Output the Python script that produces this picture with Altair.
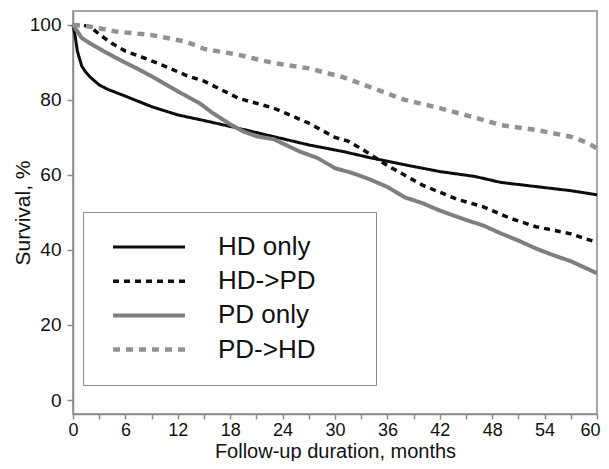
import altair as alt
import pandas as pd

FONT = "Liberation Sans, Arial, sans-serif"

groups = ["HD only", "HD->PD", "PD only", "PD->HD"]
colors = ["#0d0d0d", "#0d0d0d", "#7f7f7f", "#929292"]
dashes = [[1, 0], [6, 5], [1, 0], [7, 6]]
widths = [3, 4.5, 3, 3.2]

hd_only_m = [0, 0.25, 0.5, 1, 1.5, 2, 3, 4, 6, 9, 12, 15, 19, 23, 27, 31, 34, 38, 42, 46, 49, 53, 57, 60]
hd_only_v = [100, 97, 93, 89, 87.3, 86, 84, 82.8, 81, 78.2, 76, 74.5, 72.4, 70.2, 68, 66.2, 64.6, 62.7, 60.9, 59.6, 58, 56.9, 55.8, 54.7]

hd_pd_m = [0, 1, 2, 3, 4.5, 6, 8, 10, 13, 15, 19, 23, 27, 30, 31.5, 33, 36, 40, 44, 47, 50, 53, 57, 60]
hd_pd_v = [100, 100, 99.5, 97.5, 95, 93, 91.3, 89.5, 86.5, 85, 80.4, 77.8, 73.8, 70, 69, 67, 62.5, 57.3, 53.5, 51.5, 48.5, 46.2, 44.3, 42]

pd_only_m = [0, 1, 2, 3.5, 5.5, 7.3, 9, 11, 13, 14.5, 16, 18, 19.5, 21, 23, 26, 28, 30, 32, 34, 36, 38, 40, 42, 45, 47, 49, 51, 53, 55, 57, 60]
pd_only_v = [100, 96.5, 95, 93, 90.5, 88.4, 86.3, 83.6, 81, 79.1, 76.5, 73.5, 71.6, 70.3, 69.5, 66.2, 64.5, 61.8, 60.5, 58.8, 56.8, 54, 52.5, 50.5, 48, 46.5, 44.4, 42.5, 40.4, 38.6, 37, 33.8]

pd_hd_m = [0, 2, 5, 9, 13, 15, 19, 23, 27, 31, 34.5, 38, 42, 46, 49, 53, 57, 59, 60]
pd_hd_v = [100, 99.5, 98.2, 97.3, 95.5, 93.6, 92, 89.8, 88.4, 86, 83, 80, 77.8, 75.3, 73.3, 72, 70.2, 68.5, 67]

x_ticks = list(range(0, 61, 3))
y_ticks = [0, 20, 40, 60, 80, 100]

rows = []
for i, (g, ms, vs) in enumerate(zip(groups,
                                    [hd_only_m, hd_pd_m, pd_only_m, pd_hd_m],
                                    [hd_only_v, hd_pd_v, pd_only_v, pd_hd_v])):
    for m, v in zip(ms, vs):
        rows.append({"group": g, "month": m, "survival": v, "k": i})
df = pd.DataFrame(rows)

legend = alt.Legend(
    title=".", titleOrient="right", titleFontSize=8, titleColor="transparent",
    titlePadding=35,
    orient="none", legendX=10, legendY=201,
    symbolType="M-4,0H4", symbolSize=324, symbolStrokeWidth=3,
    symbolOffset=31, labelOffset=56, labelFontSize=26, labelFont=FONT,
    labelColor="#111111", padding=22, rowPadding=8.2,
    strokeColor="#8a8a8a",
)

chart = alt.Chart(df).mark_line(interpolate="linear").encode(
    x=alt.X("month:Q", scale=alt.Scale(domain=[0, 60], nice=False, zero=False),
            axis=alt.Axis(values=x_ticks,
                          labelExpr="datum.value % 6 == 0 ? datum.label : ''",
                          labelAlign={"condition": {"test": "datum.value == 60", "value": "right"},
                                      "value": "center"},
                          labelOffset={"condition": {"test": "datum.value == 60", "value": 3},
                                       "value": 0},
                          tickSize=5, labelPadding=2, labelFlush=False, labelFontSize=18,
                          title="Follow-up duration, months", titleFontSize=20,
                          titleBaseline="alphabetic", titleY=43.5)),
    y=alt.Y("survival:Q", scale=alt.Scale(domain=[-3.73, 103.7], nice=False, zero=False),
            axis=alt.Axis(values=y_ticks, tickSize=6, labelPadding=6, labelFlush=False,
                          title="Survival, %", titleFontSize=21,
                          titleBaseline="alphabetic", titleX=-44)),
    color=alt.Color("group:N", scale=alt.Scale(domain=groups, range=colors), legend=legend),
    strokeDash=alt.StrokeDash("group:N", scale=alt.Scale(domain=groups, range=dashes), legend=legend),
    strokeWidth=alt.StrokeWidth("group:N", scale=alt.Scale(domain=groups, range=widths), legend=None),
    detail="group:N",
    order="k:Q",
).properties(
    width=524, height=403,
    background="white",
    autosize=alt.AutoSizeParams(type="none"),
    padding={"left": 65, "top": 3, "right": 4, "bottom": 47},
).configure_view(
    stroke="#8a8a8a", strokeWidth=1.5
).configure_axis(
    grid=False, domainColor="#8a8a8a", domainWidth=1.5, tickColor="#8a8a8a", tickWidth=1.5,
    labelFont=FONT, labelFontSize=19, labelColor="#111111",
    titleFont=FONT, titleFontWeight="normal", titleColor="#111111",
)

chart.save("out.html", embed_options={"renderer": "svg", "actions": False})
